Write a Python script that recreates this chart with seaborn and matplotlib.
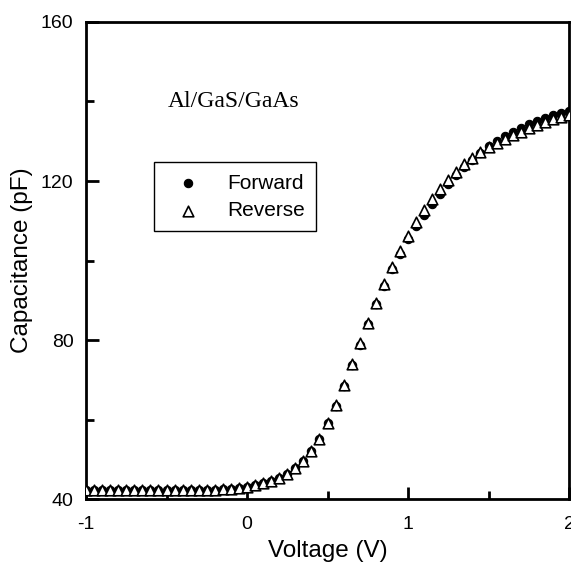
import numpy as np
import pandas as pd
import matplotlib
matplotlib.use("Agg")
import matplotlib.pyplot as plt
import seaborn as sns
from matplotlib.ticker import MultipleLocator

# Tensão (V), passo de 0.05 V de -1 a 2
voltage = np.round(np.arange(-1.0, 2.0001, 0.05), 2)

# Capacitância medida (pF) - varredura reversa (triângulos)
cap_reverse = [
    42.4, 42.4, 42.4, 42.4, 42.4, 42.4, 42.4, 42.4, 42.4, 42.4,
    42.4, 42.4, 42.4, 42.4, 42.4, 42.5, 42.5, 42.6, 42.7, 42.9,
    43.2, 43.6, 44.1, 44.7, 45.4, 46.4, 47.8, 49.7, 52.2, 55.3,
    59.2, 63.8, 68.8, 74.0, 79.2, 84.3, 89.4, 94.1, 98.4, 102.4,
    106.2, 109.6, 112.6, 115.4, 117.9, 120.2, 122.3, 124.2, 125.9, 127.3,
    128.5, 129.6, 130.6, 131.5, 132.4, 133.2, 134.0, 134.8, 135.5, 136.0,
    136.5,
]

# Capacitância medida (pF) - varredura direta (círculos)
cap_forward = [
    42.4, 42.4, 42.4, 42.4, 42.4, 42.4, 42.4, 42.4, 42.4, 42.4,
    42.4, 42.4, 42.4, 42.4, 42.4, 42.5, 42.5, 42.6, 42.7, 42.9,
    43.2, 43.6, 44.1, 44.7, 45.4, 46.4, 47.8, 49.7, 52.2, 55.3,
    59.1, 63.6, 68.6, 73.7, 78.9, 84.0, 89.0, 93.6, 97.8, 101.7,
    105.4, 108.6, 111.5, 114.2, 116.8, 119.2, 121.4, 123.5, 125.4, 127.1,
    128.7, 130.1, 131.3, 132.4, 133.4, 134.3, 135.1, 135.8, 136.5, 137.0,
    137.6,
]

df_fwd = pd.DataFrame({"Voltage": voltage, "Capacitance": cap_forward})
df_rev = pd.DataFrame({"Voltage": voltage, "Capacitance": cap_reverse})

sns.set_style("ticks")
plt.rcParams['font.family'] = ['Liberation Sans', 'DejaVu Sans']
plt.rcParams['axes.unicode_minus'] = False
plt.rcParams['text.color'] = 'black'
plt.rcParams['axes.labelcolor'] = 'black'
plt.rcParams['axes.edgecolor'] = 'black'
plt.rcParams['xtick.color'] = 'black'
plt.rcParams['ytick.color'] = 'black'

fig = plt.figure(figsize=(5.71, 5.64), dpi=100)
ax = fig.add_axes([0.1506, 0.1144, 0.846, 0.847])

sns.scatterplot(data=df_fwd, x="Voltage", y="Capacitance", ax=ax,
                marker="o", s=36, color="black", edgecolor="black",
                linewidth=0.8, label="Forward", zorder=3)
sns.scatterplot(data=df_rev, x="Voltage", y="Capacitance", ax=ax,
                marker="^", s=58, color="white", edgecolor="black",
                linewidth=1.2, label="Reverse", zorder=4)

ax.set_xlim(-1, 2)
ax.set_ylim(40, 160)
ax.xaxis.set_major_locator(MultipleLocator(1))
ax.xaxis.set_minor_locator(MultipleLocator(0.5))
ax.yaxis.set_major_locator(MultipleLocator(40))
ax.yaxis.set_minor_locator(MultipleLocator(20))
ax.tick_params(which="major", direction="in", length=9, width=2,
               labelsize=14, top=False, right=False)
ax.tick_params(which="minor", direction="in", length=6, width=2,
               top=False, right=False)
ax.tick_params(axis="x", which="major", pad=12)
ax.tick_params(axis="y", which="major", pad=9)
for s in ax.spines.values():
    s.set_visible(True)
    s.set_linewidth(2)

ax.set_xlabel("Voltage (V)", fontsize=17.5, labelpad=5)
ax.set_ylabel("Capacitance (pF)", fontsize=17.5, labelpad=6)

ax.text(0.170, 0.8215, "Al/GaS/GaAs", transform=ax.transAxes,
        fontsize=17, family="Liberation Serif", va="baseline", ha="left")

leg = ax.legend(loc="upper left", bbox_to_anchor=(0.141, 0.706),
                borderaxespad=0, fontsize=15, frameon=True, fancybox=False,
                edgecolor="black", framealpha=1, borderpad=0.55,
                handlelength=2.2, handletextpad=0.75, labelspacing=0.4)
leg.get_frame().set_linewidth(1.0)

fig.savefig("out.png", dpi=100)
